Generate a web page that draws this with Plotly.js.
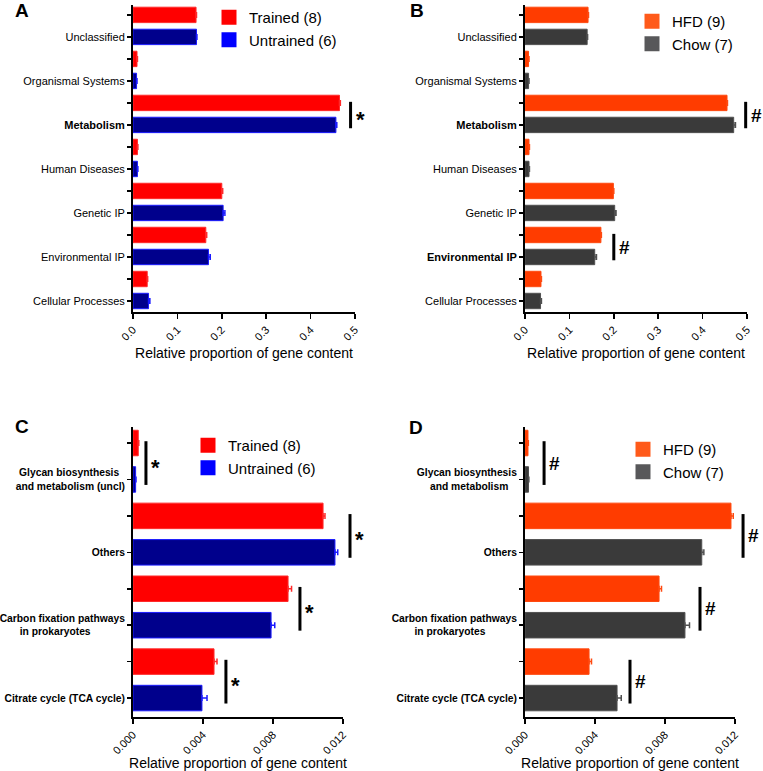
<!DOCTYPE html>
<html>
<head>
<meta charset="utf-8">
<script src="https://cdn.plot.ly/plotly-3.0.1.min.js"></script>
<style>
  html, body { margin: 0; padding: 0; background: #fff; }
  #chart { width: 763px; height: 771px; }
</style>
</head>
<body>
<div id="chart"></div>
<script>
const FONT = 'Liberation Sans, Arial, Helvetica, sans-serif';
const X_TITLE = 'Relative proportion of gene content';
const NB = n => '&nbsp;'.repeat(n);

// KEGG level 1 (panels A, B), listed bottom to top
const pathwaysAB = ['Cellular Processes', 'Environmental IP', 'Genetic IP', 'Human Diseases',
  'Metabolism', 'Organismal Systems', 'Unclassified'];

const trainedA = [0.032, 0.164, 0.200, 0.010, 0.465, 0.009, 0.142];
const trainedErrA = [0.001, 0.002, 0.002, 0.001, 0.002, 0.001, 0.001];
const untrainedA = [0.035, 0.170, 0.203, 0.010, 0.457, 0.008, 0.143];
const untrainedErrA = [0.003, 0.004, 0.004, 0.001, 0.002, 0.001, 0.001];

const hfdB = [0.036, 0.171, 0.199, 0.009, 0.455, 0.008, 0.142];
const hfdErrB = [0.001, 0.001, 0.001, 0.001, 0.001, 0.001, 0.001];
const chowB = [0.035, 0.157, 0.202, 0.009, 0.470, 0.008, 0.140];
const chowErrB = [0.002, 0.004, 0.003, 0.001, 0.004, 0.001, 0.001];

// KEGG level 3 (panels C, D), bottom to top
const labelsC = ['Citrate cycle (TCA cycle)', 'Carbon fixation pathways<br>in prokaryotes' + NB(12),
  'Others', 'Glycan biosynthesis' + NB(2) + '<br>and metabolism (uncl)'];
const labelsD = ['Citrate cycle (TCA cycle)', 'Carbon fixation pathways<br>in prokaryotes' + NB(11),
  'Others', 'Glycan biosynthesis<br>and metabolism' + NB(3)];

const trainedC = [0.00463, 0.00886, 0.01086, 0.00030];
const trainedErrC = [0.00017, 0.00020, 0.00011, 0.00003];
const untrainedC = [0.00394, 0.00789, 0.01154, 0.00015];
const untrainedErrC = [0.00029, 0.00021, 0.00016, 0.00002];

const hfdD = [0.00366, 0.00766, 0.01177, 0.00017];
const hfdErrD = [0.00014, 0.00014, 0.00013, 0.00002];
const chowD = [0.00526, 0.00914, 0.01010, 0.00020];
const chowErrD = [0.00024, 0.00026, 0.00012, 0.00002];

// significance brackets: category index, x position
const sigA = [{ cat: 4, x: 0.490, sym: '*' }];
const sigB = [{ cat: 4, x: 0.497, sym: '#' }, { cat: 1, x: 0.200, sym: '#' }];
const sigC = [{ cat: 3, x: 0.00074, sym: '*' }, { cat: 2, x: 0.0124, sym: '*' },
  { cat: 1, x: 0.00954, sym: '*' }, { cat: 0, x: 0.00531, sym: '*' }];
const sigD = [{ cat: 3, x: 0.00109, sym: '#' }, { cat: 2, x: 0.01246, sym: '#' },
  { cat: 1, x: 0.0100, sym: '#' }, { cat: 0, x: 0.0060, sym: '#' }];

const RED = { fill: '#ff0000', edge: '#ff2a2a', legend: '#ff0000' };
const BLUE = { fill: '#00008c', edge: '#1a1aff', legend: '#0000ff' };
const ORANGE = { fill: '#ff3c00', edge: '#ff4a10', legend: '#ff5a1a' };
const GREY = { fill: '#3a3a3a', edge: '#505050', legend: '#58585a' };

const W = 763, H = 771;
const traces = [];
const layout = {
  width: W, height: H,
  margin: { l: 0, r: 0, t: 0, b: 0 },
  paper_bgcolor: '#fff', plot_bgcolor: '#fff',
  font: { family: FONT, color: '#000' },
  showlegend: true,
  shapes: [],
  annotations: []
};

// brackets sit partly outside the axis range, so place them in paper space
function toPaper(p, x, y) {
  const px = p.px[0] + (x - p.range[0]) / (p.range[1] - p.range[0]) * (p.px[1] - p.px[0]);
  const py = p.py[1] - (y - p.yrange[0]) / (p.yrange[1] - p.yrange[0]) * (p.py[1] - p.py[0]);
  return [px / W, 1 - py / H];
}

function addPanel(k, p) {
  const ax = k === 1 ? '' : String(k);

  p.series.forEach((s, si) => {
    const off = si === 0 ? 1 : 0;
    traces.push({
      type: 'bar', orientation: 'h',
      x: s.vals,
      y: s.vals.map((v, i) => 2 * i + off),
      width: 0.7,
      marker: { color: s.col.fill, line: { color: s.col.edge, width: 1 } },
      error_x: { type: 'data', array: s.errs, arrayminus: s.errs.map(() => 0), symmetric: false,
        color: s.col.edge, thickness: 1.5, width: 3 },
      xaxis: 'x' + ax, yaxis: 'y' + ax,
      showlegend: false, hoverinfo: 'x'
    });
    traces.push({
      type: 'scatter', mode: 'markers', x: [null], y: [null],
      name: s.name,
      marker: { symbol: 'square', size: 15, color: s.col.legend },
      xaxis: 'x' + ax, yaxis: 'y' + ax,
      legend: 'legend' + ax
    });
  });

  const tickvals = [], ticktext = [];
  p.labels.forEach((lab, i) => {
    tickvals.push(2 * i, 2 * i + 1);
    ticktext.push(p.bold.includes(lab) ? '<b>' + lab + '</b>' : lab, '');
  });

  layout['xaxis' + ax] = {
    domain: [p.px[0] / W, p.px[1] / W], anchor: 'y' + ax,
    range: p.range, tick0: 0, dtick: p.dtick, tickformat: p.fmt, tickangle: -45,
    showline: true, linewidth: 2, linecolor: '#000',
    ticks: 'outside', ticklen: 5, tickwidth: 1.5, tickcolor: '#000',
    showgrid: false, zeroline: false,
    tickfont: { size: 11 },
    title: { text: X_TITLE, font: { size: 14 }, standoff: 6 },
    fixedrange: true
  };
  layout['yaxis' + ax] = {
    domain: [1 - p.py[1] / H, 1 - p.py[0] / H], anchor: 'x' + ax,
    range: p.yrange,
    tickmode: 'array', tickvals: tickvals, ticktext: ticktext,
    showline: true, linewidth: 2, linecolor: '#000',
    ticks: 'outside', ticklen: 4, tickwidth: 1.5, tickcolor: '#000',
    showgrid: false, zeroline: false,
    tickfont: { size: p.tickSize, weight: p.allBold ? 'bold' : 'normal' },
    fixedrange: true
  };
  layout['legend' + ax] = {
    x: p.legendXY[0] / W, y: 1 - p.legendXY[1] / H, xanchor: 'left', yanchor: 'top',
    bgcolor: 'rgba(0,0,0,0)', font: { size: 15 }, tracegroupgap: 0
  };

  p.sig.forEach(s => {
    const a = toPaper(p, s.x, 2 * s.cat - 0.15);
    const b = toPaper(p, s.x, 2 * s.cat + 1.05);
    const m = toPaper(p, s.x, 2 * s.cat + 0.45);
    layout.shapes.push({
      type: 'line', xref: 'paper', yref: 'paper',
      x0: a[0], x1: b[0], y0: a[1], y1: b[1],
      line: { color: '#000', width: 3 }
    });
    layout.annotations.push({
      xref: 'paper', yref: 'paper', x: m[0], y: m[1],
      text: '<b>' + s.sym + '</b>', showarrow: false, xanchor: 'left', yanchor: 'middle', xshift: 3,
      yshift: s.sym === '*' ? -4 : 0,
      font: { size: s.sym === '*' ? 22 : 19 }
    });
  });

  layout.annotations.push({
    xref: 'paper', yref: 'paper', x: p.letterXY[0] / W, y: 1 - p.letterXY[1] / H,
    xanchor: 'center', yanchor: 'middle',
    text: '<b>' + p.letter + '</b>', showarrow: false, font: { size: 19 }
  });
}

addPanel(1, {
  letter: 'A', letterXY: [22, 11],
  labels: pathwaysAB, bold: ['Metabolism'], allBold: false, tickSize: 11,
  series: [{ name: 'Trained (8)', vals: trainedA, errs: trainedErrA, col: RED },
           { name: 'Untrained (6)', vals: untrainedA, errs: untrainedErrA, col: BLUE }],
  px: [133, 355], py: [5, 312], range: [0, 0.5], dtick: 0.1, fmt: '.1f',
  yrange: [-0.5, 13.45], sig: sigA, legendXY: [209, 1]
});
addPanel(2, {
  letter: 'B', letterXY: [417, 11],
  labels: pathwaysAB, bold: ['Metabolism', 'Environmental IP'], allBold: false, tickSize: 11,
  series: [{ name: 'HFD (9)', vals: hfdB, errs: hfdErrB, col: ORANGE },
           { name: 'Chow (7)', vals: chowB, errs: chowErrB, col: GREY }],
  px: [525, 747], py: [5, 312], range: [0, 0.5], dtick: 0.1, fmt: '.1f',
  yrange: [-0.5, 13.45], sig: sigB, legendXY: [632, 5]
});
addPanel(3, {
  letter: 'C', letterXY: [22, 426],
  labels: labelsC, bold: [], allBold: true, tickSize: 10.3,
  series: [{ name: 'Trained (8)', vals: trainedC, errs: trainedErrC, col: RED },
           { name: 'Untrained (6)', vals: untrainedC, errs: untrainedErrC, col: BLUE }],
  px: [133, 343], py: [427, 717], range: [0, 0.012], dtick: 0.004, fmt: '.3f',
  yrange: [-0.52, 7.44], sig: sigC, legendXY: [188, 429]
});
addPanel(4, {
  letter: 'D', letterXY: [416, 427],
  labels: labelsD, bold: [], allBold: true, tickSize: 10.3,
  series: [{ name: 'HFD (9)', vals: hfdD, errs: hfdErrD, col: ORANGE },
           { name: 'Chow (7)', vals: chowD, errs: chowErrD, col: GREY }],
  px: [525, 735], py: [427, 717], range: [0, 0.012], dtick: 0.004, fmt: '.3f',
  yrange: [-0.52, 7.44], sig: sigD, legendXY: [623, 433]
});

Plotly.newPlot('chart', traces, layout, { displayModeBar: false, staticPlot: true });
</script>
</body>
</html>
